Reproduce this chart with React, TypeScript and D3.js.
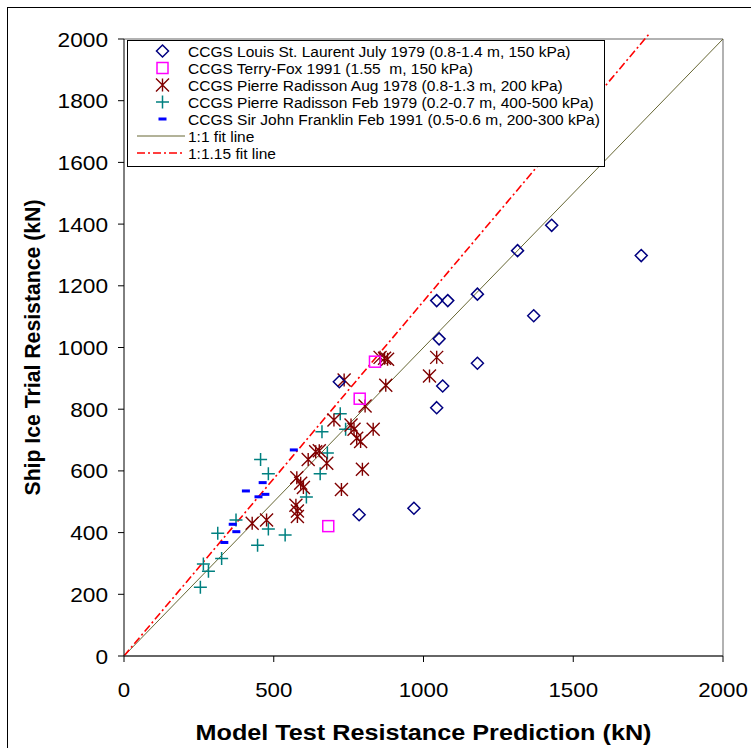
import React from "react";
import * as d3 from "d3";

const xTicks = [0, 500, 1000, 1500, 2000];
const yTicks = [0, 200, 400, 600, 800, 1000, 1200, 1400, 1600, 1800, 2000];

const legendLabels = [
  "CCGS Louis St. Laurent July 1979 (0.8-1.4 m, 150 kPa)",
  "CCGS Terry-Fox 1991 (1.55  m, 150 kPa)",
  "CCGS Pierre Radisson Aug 1978 (0.8-1.3 m, 200 kPa)",
  "CCGS Pierre Radisson Feb 1979 (0.2-0.7 m, 400-500 kPa)",
  "CCGS Sir John Franklin Feb 1991 (0.5-0.6 m, 200-300 kPa)",
  "1:1 fit line",
  "1:1.15 fit line",
];

// CCGS Louis St. Laurent July 1979
const louisX = [719, 785, 968, 1044, 1044, 1052, 1064, 1081, 1180, 1180, 1314, 1368, 1428, 1727];
const louisY = [889, 458, 479, 805, 1152, 1028, 875, 1152, 949, 1173, 1314, 1103, 1396, 1298];

// CCGS Terry-Fox 1991
const terryX = [682, 787, 838];
const terryY = [421, 834, 954];

// CCGS Pierre Radisson Aug 1978
const radAugX = [428, 476, 574, 579, 579, 577, 599, 590, 615, 640, 652, 677, 726, 796, 701, 758, 768, 832, 777, 790, 805, 735, 874, 855, 870, 880, 1044, 1020];
const radAugY = [430, 441, 489, 470, 452, 578, 546, 560, 637, 662, 665, 625, 540, 605, 765, 749, 735, 735, 706, 695, 810, 895, 878, 968, 965, 962, 968, 908];

// CCGS Pierre Radisson Feb 1979
const radFebX = [456, 482, 374, 313, 482, 538, 446, 326, 265, 282, 255, 609, 655, 679, 661, 740, 722];
const radFebY = [637, 591, 441, 398, 412, 392, 359, 316, 298, 275, 223, 515, 591, 658, 727, 735, 785];

// CCGS Sir John Franklin Feb 1991
const franklinX = [567, 463, 407, 449, 472, 363, 375, 335];
const franklinY = [668, 562, 535, 516, 524, 427, 403, 368];

// fit lines
const fit1X = [0, 2000];
const fitSlope1 = 1;
const fit115X = [0, 1756];
const fitSlope115 = 1.15;

const W = 751;
const H = 748;
const left = 124;
const top = 39;
const pw = 599;
const ph = 617;

const COL_DIAMOND = "#000080";
const COL_SQUARE = "#FF00FF";
const COL_STAR = "#800000";
const COL_CROSS = "#008080";
const COL_DASH = "#0000FF";
const COL_FIT1 = "#666633";
const COL_FIT115 = "#FF0000";

const FONT = "'Liberation Sans', Arial, Helvetica, sans-serif";

function Diamond({ x, y }: { x: number; y: number }) {
  const r = 6;
  return (
    <path
      d={`M${x},${y - r}L${x + r},${y}L${x},${y + r}L${x - r},${y}Z`}
      fill="none"
      stroke={COL_DIAMOND}
      strokeWidth={1.5}
    />
  );
}
function Square({ x, y }: { x: number; y: number }) {
  const r = 5.5;
  return <rect x={x - r} y={y - r} width={2 * r} height={2 * r} fill="none" stroke={COL_SQUARE} strokeWidth={1.5} />;
}
function Star({ x, y }: { x: number; y: number }) {
  const r = 6.5;
  return (
    <path
      d={`M${x - r},${y - r}L${x + r},${y + r}M${x - r},${y + r}L${x + r},${y - r}M${x},${y - r}L${x},${y + r}`}
      stroke={COL_STAR}
      strokeWidth={1.4}
      fill="none"
    />
  );
}
function Cross({ x, y }: { x: number; y: number }) {
  const r = 6.5;
  return (
    <path d={`M${x - r},${y}L${x + r},${y}M${x},${y - r}L${x},${y + r}`} stroke={COL_CROSS} strokeWidth={1.5} fill="none" />
  );
}
function Dash({ x, y }: { x: number; y: number }) {
  return <rect x={x - 4} y={y - 1.5} width={8} height={3} fill={COL_DASH} />;
}

export default function App() {
  const xs = d3.scaleLinear().domain([0, 2000]).range([left, left + pw]);
  const ys = d3.scaleLinear().domain([0, 2000]).range([top + ph, top]);
  const line = d3
    .line<[number, number]>()
    .x((d) => xs(d[0]))
    .y((d) => ys(d[1]));

  const fit1 = line(fit1X.map((v) => [v, v * fitSlope1] as [number, number])) || "";
  const fit115 = line(fit115X.map((v) => [v, v * fitSlope115] as [number, number])) || "";

  const legX = 127;
  const legY = 40;
  const legW = 477;
  const legH = 126;
  const rowY = (i: number) => 51 + i * 17;
  const symX = 162.5;
  const textX = 188;

  return (
    <svg width={W} height={H} style={{ position: "absolute", left: 0, top: 0, fontFamily: FONT }}>
      <rect x={0} y={0} width={W} height={H} fill="#fff" />
      <rect x={7.5} y={7.5} width={W + 20} height={H + 20} fill="none" stroke="#000" strokeWidth={1} />

      {/* plot frame */}
      <line x1={left} y1={top} x2={left + pw} y2={top} stroke="#999" strokeWidth={1.5} />
      <line x1={left + pw} y1={top} x2={left + pw} y2={top + ph} stroke="#999" strokeWidth={1.5} />

      {/* fit lines */}
      <path d={fit1} stroke={COL_FIT1} strokeWidth={1} fill="none" />
      <path d={fit115} stroke={COL_FIT115} strokeWidth={1.6} strokeDasharray="8,3,2,3" fill="none" />

      {/* markers */}
      {radFebX.map((v, i) => (
        <Cross key={"c" + i} x={xs(v)} y={ys(radFebY[i])} />
      ))}
      {radAugX.map((v, i) => (
        <Star key={"s" + i} x={xs(v)} y={ys(radAugY[i])} />
      ))}
      {franklinX.map((v, i) => (
        <Dash key={"d" + i} x={xs(v)} y={ys(franklinY[i])} />
      ))}
      {louisX.map((v, i) => (
        <Diamond key={"m" + i} x={xs(v)} y={ys(louisY[i])} />
      ))}
      {terryX.map((v, i) => (
        <Square key={"q" + i} x={xs(v)} y={ys(terryY[i])} />
      ))}

      {/* axes */}
      <line x1={left} y1={top} x2={left} y2={top + ph} stroke="#000" strokeWidth={1} />
      <line x1={left} y1={top + ph} x2={left + pw} y2={top + ph} stroke="#333" strokeWidth={1.3} />
      {yTicks.map((t) => (
        <g key={"yt" + t}>
          <line x1={left - 6} x2={left} y1={ys(t)} y2={ys(t)} stroke="#000" />
          <text
            x={108}
            y={ys(t) + 7.5}
            fontSize={21}
            textAnchor="end"
            fill="#000"
            textLength={String(t).length * 12.6}
            lengthAdjust="spacingAndGlyphs"
          >
            {t}
          </text>
        </g>
      ))}
      {xTicks.map((t) => (
        <g key={"xt" + t}>
          <line x1={xs(t)} x2={xs(t)} y1={top + ph} y2={top + ph + 6} stroke="#000" />
          <text
            x={xs(t)}
            y={697}
            fontSize={21}
            textAnchor="middle"
            fill="#000"
            textLength={String(t).length * 12.4}
            lengthAdjust="spacingAndGlyphs"
          >
            {t}
          </text>
        </g>
      ))}

      <text
        x={left + pw / 2}
        y={740}
        fontSize={22}
        fontWeight="bold"
        textAnchor="middle"
        textLength={456}
        lengthAdjust="spacingAndGlyphs"
      >
        Model Test Resistance Prediction (kN)
      </text>
      <text
        transform={`translate(40,${top + ph / 2}) rotate(-90)`}
        fontSize={22}
        fontWeight="bold"
        textAnchor="middle"
        textLength={296}
        lengthAdjust="spacingAndGlyphs"
      >
        Ship Ice Trial Resistance (kN)
      </text>

      {/* legend */}
      <rect x={legX + 0.5} y={legY + 0.5} width={legW} height={legH} fill="#fff" stroke="#000" strokeWidth={1} />
      <Diamond x={symX} y={rowY(0)} />
      <Square x={symX} y={rowY(1)} />
      <Star x={symX} y={rowY(2)} />
      <Cross x={symX} y={rowY(3)} />
      <Dash x={symX} y={rowY(4)} />
      <line x1={137} x2={185} y1={rowY(5)} y2={rowY(5)} stroke={COL_FIT1} strokeWidth={1} />
      <line x1={137} x2={185} y1={rowY(6)} y2={rowY(6)} stroke={COL_FIT115} strokeWidth={1.6} strokeDasharray="8,3,2,3" />
      {legendLabels.map((l, i) => (
        <text key={"l" + i} x={textX} y={rowY(i) + 5.5} fontSize={15.5} fill="#000" style={{ whiteSpace: "pre" }}>
          {l}
        </text>
      ))}
    </svg>
  );
}
